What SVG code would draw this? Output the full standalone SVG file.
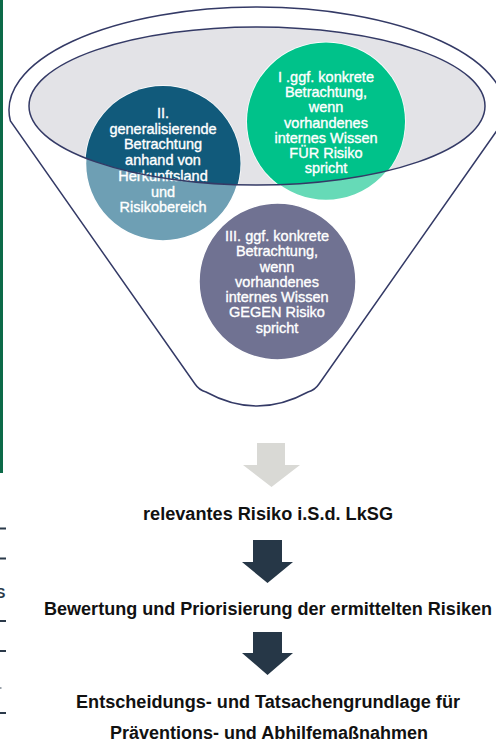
<svg xmlns="http://www.w3.org/2000/svg" width="496" height="744" viewBox="0 0 496 744">
<style>
.ct{font-family:"Liberation Sans",Arial,sans-serif;font-size:14.5px;fill:#ffffff;stroke:#ffffff;stroke-width:0.35;text-anchor:middle}
.bt{font-family:"Liberation Sans",Arial,sans-serif;font-size:17.5px;font-weight:bold;fill:#111111;text-anchor:middle}
.ln{fill:none;stroke:#343a66;stroke-width:1.5}
.cw{stroke:#ffffff;stroke-width:1.5}
.dash{fill:#2b3a4a}
</style>
<defs>
<clipPath id="inner"><ellipse cx="257" cy="106" rx="228" ry="79"/></clipPath>
</defs>
<rect width="496" height="744" fill="#ffffff"/>
<g id="edge">
<rect x="0" y="0" width="3" height="473" fill="#0c6a48"/>
<rect class="dash" x="0" y="527.5" width="6" height="2"/>
<rect class="dash" x="0" y="557.5" width="6" height="2"/>
<text x="-4" y="598" font-family="Liberation Sans, Arial, sans-serif" font-size="14" font-weight="bold" fill="#2b3a4a">S</text>
<rect class="dash" x="0" y="620" width="6" height="2"/>
<rect class="dash" x="0" y="650" width="6" height="2"/>
<rect x="0" y="687" width="1.5" height="2" fill="#9aa2ab"/>
<rect class="dash" x="0" y="712" width="6" height="2"/>
</g>
<g id="funnel">
<path class="ln" d="M 10.4,121 A 248 103 0 1 1 503.6,121 L 319,384 Q 315,390 308,392 Q 257,420 206,392 Q 199,390 195,384 Z"/>
<ellipse cx="257" cy="106" rx="228" ry="79" fill="#e3e3e7"/>
</g>
<g id="circle-II">
<circle class="cw" cx="163" cy="163.5" r="77.5" fill="#6e9fb4"/>
<circle cx="163" cy="163.5" r="77.5" fill="#115a7b" clip-path="url(#inner)"/>
</g>
<g id="circle-I">
<circle class="cw" cx="326" cy="121.5" r="79" fill="#66dab7"/>
<circle cx="326" cy="121.5" r="79" fill="#00c28a" clip-path="url(#inner)"/>
</g>
<g id="circle-III">
<circle class="cw" cx="277.5" cy="281.5" r="78.5" fill="#707292"/>
</g>
<g id="labels-circles">
<text class="ct" x="326"><tspan x="326" y="82">I .ggf. konkrete</tspan><tspan x="326" y="97.2">Betrachtung,</tspan><tspan x="326" y="112.4">wenn</tspan><tspan x="326" y="127.6">vorhandenes</tspan><tspan x="326" y="142.8">internes Wissen</tspan><tspan x="326" y="158">FÜR Risiko</tspan><tspan x="326" y="173.2">spricht</tspan></text>
<text class="ct" x="163"><tspan x="163" y="118">II.</tspan><tspan x="163" y="133.7">generalisierende</tspan><tspan x="163" y="149.4">Betrachtung</tspan><tspan x="163" y="165.1">anhand von</tspan><tspan x="163" y="180.8">Herkunftsland</tspan><tspan x="163" y="196.5">und</tspan><tspan x="163" y="212.2">Risikobereich</tspan></text>
<text class="ct" x="277"><tspan x="277" y="241">III. ggf. konkrete</tspan><tspan x="277" y="256.25">Betrachtung,</tspan><tspan x="277" y="271.5">wenn</tspan><tspan x="277" y="286.75">vorhandenes</tspan><tspan x="277" y="302">internes Wissen</tspan><tspan x="277" y="317.25">GEGEN Risiko</tspan><tspan x="277" y="332.5">spricht</tspan></text>
</g>
<g id="funnel-rim">
<ellipse class="ln" cx="257" cy="106" rx="228" ry="79"/>
</g>
<g id="connectors">
<polygon points="257,443 285,443 285,465 300,465 271.5,487 243,465 257,465" fill="#d9d9d5"/>
<polygon points="253,540 282,540 282,562 293,562 267.5,583 242,562 253,562" fill="#263747"/>
<polygon points="253,632 282,632 282,653 293,653 267.5,675 242,653 253,653" fill="#263747"/>
</g>
<g id="result">
<text class="bt" x="268" y="519.5" textLength="250" lengthAdjust="spacingAndGlyphs">relevantes Risiko i.S.d. LkSG</text>
</g>
<g id="assessment">
<text class="bt" x="268" y="614.5" textLength="448" lengthAdjust="spacingAndGlyphs">Bewertung und Priorisierung der ermittelten Risiken</text>
</g>
<g id="basis">
<text class="bt" x="268" y="708" textLength="384" lengthAdjust="spacingAndGlyphs">Entscheidungs- und Tatsachengrundlage für</text>
<text class="bt" x="269" y="738.5" textLength="318" lengthAdjust="spacingAndGlyphs">Präventions- und Abhilfemaßnahmen</text>
</g>
</svg>
